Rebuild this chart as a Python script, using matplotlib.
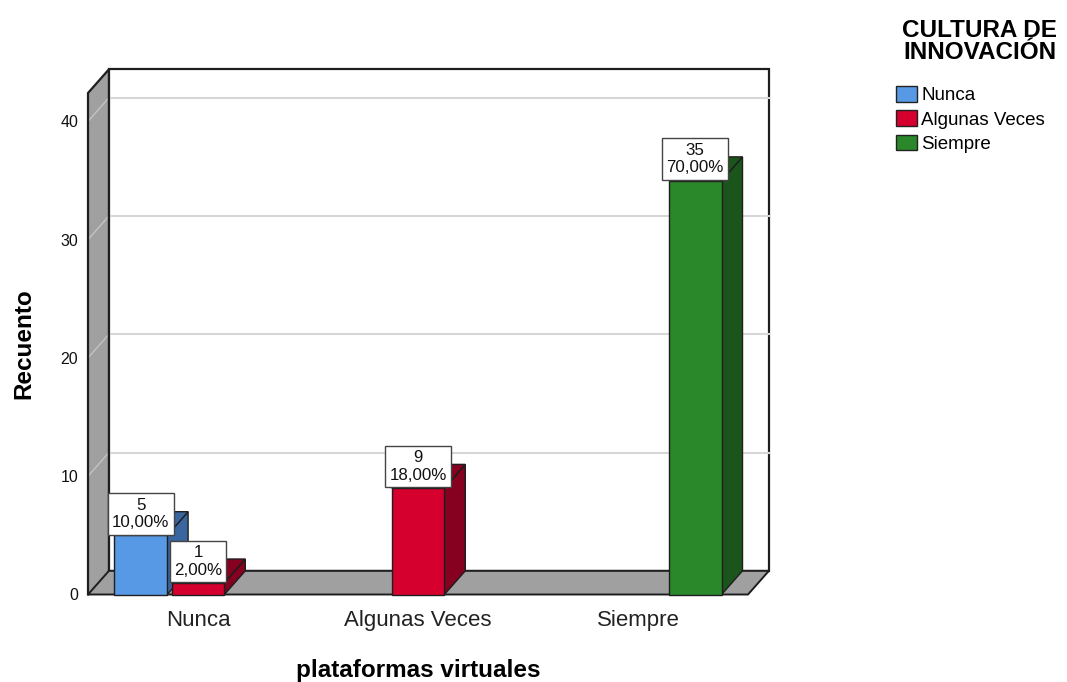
import matplotlib
matplotlib.use('Agg')
import matplotlib.pyplot as plt
from matplotlib.patches import Polygon, Patch

plt.rcParams['font.family'] = ['Liberation Sans', 'DejaVu Sans']

# plataformas virtuales (eje X)
categories = ['Nunca', 'Algunas Veces', 'Siempre']
# CULTURA DE INNOVACIÓN (series)
series_names = ['Nunca', 'Algunas Veces', 'Siempre']
nunca_counts = [5, 0, 0]
algunas_counts = [1, 9, 0]
siempre_counts = [0, 0, 35]
total = 50
y_ticks = [0, 10, 20, 30, 40]

front_colors = ['#5799E4', '#D5002E', '#2A872A']
side_colors = ['#3A669F', '#86001F', '#1B551B']

counts = [nunca_counts, algunas_counts, siempre_counts]

YMAX = 42.4
DX = 0.095   # profundidad en x (unidades de categoria)
DY = 2.0     # profundidad en y (unidades de recuento)
BAR_W = 0.24
OFFSETS = [-0.26, 0.0, 0.26]
EDGE = '#1e1e1e'

fig = plt.figure(figsize=(10.67, 6.82), dpi=100)
ax = fig.add_axes([88 / 1067, (682 - 594.5) / 682, 660 / 1067, (594.5 - 93) / 682])
ax.set_xlim(-0.5, len(categories) - 0.5)
ax.set_ylim(0, YMAX)
for s in ax.spines.values():
    s.set_visible(False)
ax.patch.set_visible(False)

x_left = -0.5
x_right = len(categories) - 0.5


def poly(pts, fc, ec='none', lw=1.0, z=1):
    p = Polygon(pts, closed=True, facecolor=fc, edgecolor=ec, linewidth=lw,
                clip_on=False, zorder=z, joinstyle='miter')
    ax.add_patch(p)


# pared del fondo
poly([(x_left + DX, DY), (x_right + DX, DY), (x_right + DX, YMAX + DY),
      (x_left + DX, YMAX + DY)], 'white', EDGE, 1.6, z=1)
for v in y_ticks[1:]:
    ax.plot([x_left + DX, x_right + DX], [v + DY, v + DY], color='#d6d6d6',
            lw=1.5, clip_on=False, zorder=1.5)

# pared izquierda
poly([(x_left, 0), (x_left, YMAX), (x_left + DX, YMAX + DY), (x_left + DX, DY)],
     '#a0a0a0', z=2)
for v in y_ticks:
    ax.plot([x_left, x_left + DX], [v, v + DY], color='#c4c4c4', lw=1.0,
            clip_on=False, zorder=2.1)
ax.plot([x_left, x_left, x_left + DX, x_left + DX], [0, YMAX, YMAX + DY, DY],
        color=EDGE, lw=1.6, clip_on=False, zorder=2.2, solid_joinstyle='miter')

# piso
poly([(x_left, 0), (x_right, 0), (x_right + DX, DY), (x_left + DX, DY)],
     '#a0a0a0', EDGE, 1.4, z=3)

# barras 3D
for i in range(len(categories)):
    for j in range(len(series_names)):
        c = counts[j][i]
        if c <= 0:
            continue
        x0 = i + OFFSETS[j] - BAR_W / 2
        x1 = x0 + BAR_W
        poly([(x1, 0), (x1 + DX, DY), (x1 + DX, c + DY), (x1, c)],
             side_colors[j], EDGE, 1.0, z=4)
        poly([(x0, c), (x1, c), (x1 + DX, c + DY), (x0 + DX, c + DY)],
             side_colors[j], EDGE, 1.0, z=4)
        poly([(x0, 0), (x1, 0), (x1, c), (x0, c)],
             front_colors[j], EDGE, 1.0, z=4)

# etiquetas de recuento y porcentaje
LBL_FS = 12.2
PAD = 0.26
for i in range(len(categories)):
    for j in range(len(series_names)):
        c = counts[j][i]
        if c <= 0:
            continue
        pct = f'{c / total * 100:.2f}'.replace('.', ',')
        ax.annotate(f'{c}\n{pct}%', xy=(i + OFFSETS[j], c),
                    xytext=(0, PAD * LBL_FS + 0.5), textcoords='offset points',
                    ha='center', va='bottom', multialignment='center',
                    fontsize=LBL_FS, linespacing=1.22, color='#111',
                    annotation_clip=False, zorder=10,
                    bbox=dict(boxstyle=f'square,pad={PAD}', fc='white',
                              ec='#444', lw=1.0))

ax.set_xticks(range(len(categories)))
ax.set_xticklabels(categories, fontsize=16, color='#222')
ax.set_yticks(y_ticks)
ax.set_yticklabels([str(v) for v in y_ticks], fontsize=11.5, color='#111')
ax.tick_params(axis='x', length=0, pad=11)
ax.tick_params(axis='y', length=0, pad=7)

ax.set_xlabel('plataformas virtuales', fontsize=17.5, fontweight='bold',
              labelpad=20)
ax.set_ylabel('Recuento', fontsize=17.5, fontweight='bold', labelpad=18)

# leyenda
fig.text(980 / 1067, 1 - 19 / 682, 'CULTURA DE\nINNOVACIÓN', ha='center',
         va='top', fontsize=17.5, fontweight='bold', linespacing=0.92)
handles = [Patch(facecolor=front_colors[k], edgecolor='#222', linewidth=1.0)
           for k in range(len(series_names))]
fig.legend(handles, series_names, loc='upper left',
           bbox_to_anchor=(896 / 1067, 1 - 86 / 682), frameon=False,
           fontsize=13.5, handlelength=1.1, handleheight=0.9,
           handletextpad=0.25, labelspacing=0.33, borderpad=0,
           borderaxespad=0)

fig.savefig('out.png', dpi=100)
